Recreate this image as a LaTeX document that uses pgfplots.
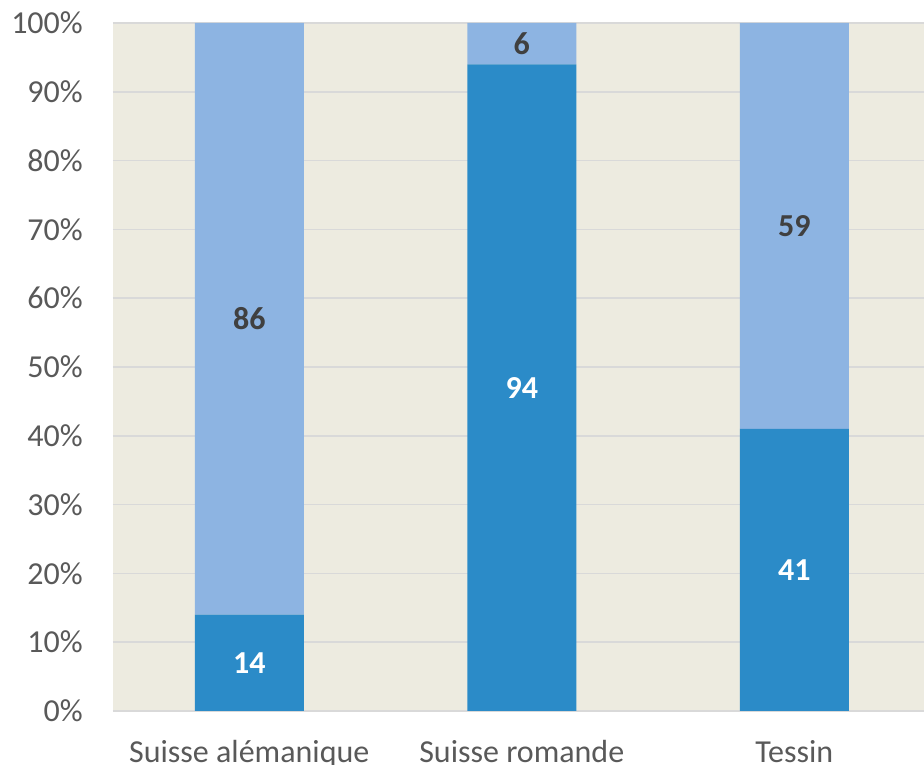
\documentclass[border=0pt]{standalone}
\usepackage{pgfplots}
\pgfplotsset{compat=1.18}
\usepackage{fontspec}
\setmainfont{Carlito}
\definecolor{bg}{RGB}{237,235,224}
\definecolor{gridc}{RGB}{217,217,217}
\definecolor{dblue}{RGB}{43,139,200}
\definecolor{lblue}{RGB}{141,180,226}
\definecolor{ticktxt}{RGB}{89,89,89}
\definecolor{lbltxt}{RGB}{64,64,64}
\begin{document}
\begin{tikzpicture}
\pgfplotsset{
  common/.style={
    scale only axis, width=811pt, height=688pt,
    at={(0pt,0pt)}, anchor=south west,
    xmin=-0.5, xmax=2.476, ymin=0, ymax=100,
  }
}
\begin{axis}[
  common,
  ybar stacked, bar width=109pt,
  xtick={0,1,2},
  xticklabels={Suisse alémanique, Suisse romande, Tessin},
  ytick={0,10,...,100},
  yticklabel={\pgfmathprintnumber{\tick}\%},
  /pgf/number format/assume math mode=true,
  axis background/.style={fill=bg},
  ymajorgrids, grid style={gridc, line width=1.5pt},
  axis line style={draw=none},
  major tick length=0pt,
  tick label style={font=\fontsize{32}{32}\selectfont, text=ticktxt, inner sep=0pt},
  xticklabel style={anchor=north, yshift=-29pt},
  yticklabel style={anchor=east, xshift=-30pt},
]
\addplot[fill=dblue, draw=none] coordinates {(0,14) (1,94) (2,41)};
\addplot[fill=lblue, draw=none] coordinates {(0,86) (1,6) (2,59)};
\end{axis}
\begin{axis}[
  common, hide axis,
  nodes near coords,
  point meta=explicit symbolic,
  every node near coord/.append style={anchor=center, inner sep=0pt, font=\fontsize{32}{32}\selectfont\bfseries},
]
\addplot[draw=none, mark=none, nodes near coords, every node near coord/.append style={text=white}]
  coordinates {(0,7)[14] (1,47)[94] (2,20.5)[41]};
\addplot[draw=none, mark=none, nodes near coords, every node near coord/.append style={text=lbltxt}]
  coordinates {(0,57)[86] (1,97)[6] (2,70.5)[59]};
\end{axis}
\pgfresetboundingbox
\path[use as bounding box] (-113pt,-54pt) rectangle (811pt,711pt);
\end{tikzpicture}
\end{document}
